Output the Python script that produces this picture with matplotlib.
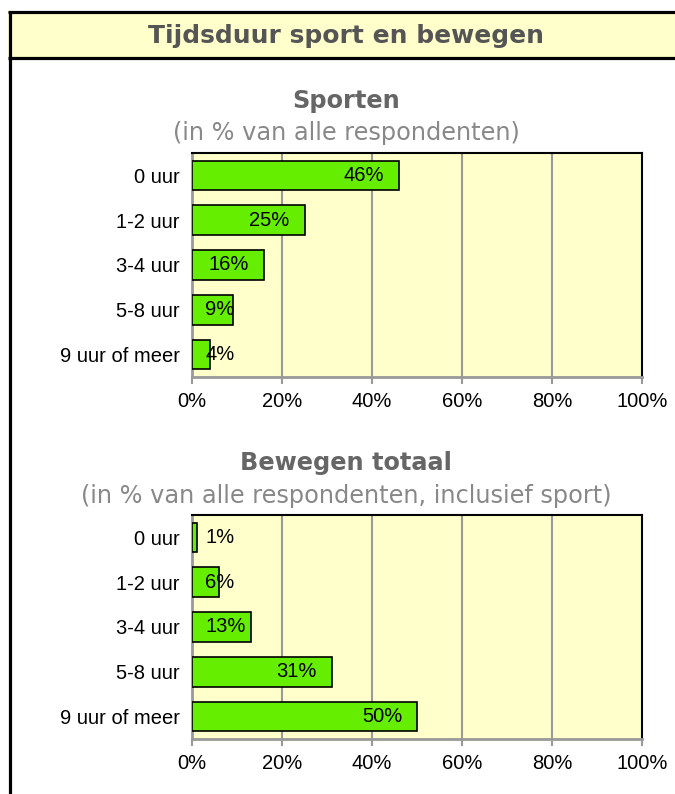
import matplotlib
matplotlib.use("Agg")
import matplotlib.pyplot as plt
from matplotlib.patches import Rectangle
from matplotlib.lines import Line2D

categories = ["0 uur", "1-2 uur", "3-4 uur", "5-8 uur", "9 uur of meer"]
sporten = [46, 25, 16, 9, 4]
bewegen = [1, 6, 13, 31, 50]
xticks = [0, 20, 40, 60, 80, 100]
xticklabels = ["0%", "20%", "40%", "60%", "80%", "100%"]

W, H = 675, 794
fig = plt.figure(figsize=(W / 100, H / 100), dpi=100)
fig.patch.set_facecolor("white")
renderer = fig.canvas.get_renderer()

def fx(x): return x / W
def fy(y): return 1 - y / H

# header band
fig.patches.append(Rectangle((fx(8), fy(59)), fx(680) - fx(8), fy(11) - fy(59),
                             transform=fig.transFigure, facecolor="#FFFFCC",
                             edgecolor="none", zorder=0))
for (x0, y0, x1, y1) in [(8, 12, 680, 12), (8, 58, 680, 58), (9.5, 11, 9.5, 800)]:
    fig.lines.append(Line2D([fx(x0), fx(x1)], [fy(y0), fy(y1)], transform=fig.transFigure,
                            color="black", lw=2.3, solid_capstyle="butt"))
fig.text(fx(346), fy(36), "Tijdsduur sport en bewegen", ha="center", va="center",
         fontsize=18, fontweight="bold", color="#555555", family="DejaVu Sans")

GREEN = "#66EE00"
BG = "#FFFFCC"
GRID = "#999999"
FS = 14.5

def panel(top, bottom, values, title, subtitle, ty, sy):
    ax = fig.add_axes([fx(192), fy(bottom), fx(642) - fx(192), fy(top) - fy(bottom)])
    ax.set_facecolor(BG)
    y = list(range(len(categories)))
    ax.barh(y, values, height=0.66, color=GREEN, edgecolor="black", linewidth=1.2, zorder=3)
    ax.set_xlim(0, 100)
    ax.set_ylim(len(categories) - 0.5, -0.5)
    ax.set_yticks(y)
    ax.set_yticklabels(categories, family="Liberation Sans", fontsize=FS)
    ax.set_xticks(xticks)
    ax.set_xticklabels(xticklabels, family="Liberation Sans", fontsize=FS)
    ax.tick_params(axis="y", length=0, pad=9)
    ax.tick_params(axis="x", length=5, color=GRID, width=1.5, pad=6)
    for t in xticks[1:-1]:
        ax.axvline(t, color=GRID, lw=1.5, zorder=1)
    for s in ["top", "right"]:
        ax.spines[s].set_color("black")
        ax.spines[s].set_linewidth(1.5)
    for s in ["left", "bottom"]:
        ax.spines[s].set_color(GRID)
        ax.spines[s].set_linewidth(2)
    ax_x0 = ax.get_window_extent(renderer).x0
    for i, v in enumerate(values):
        t = ax.text(v - 3.3, i, f"{v}%", ha="right", va="center", fontsize=FS,
                    family="Liberation Sans", color="black", zorder=4)
        bb = t.get_window_extent(renderer)
        if bb.x0 < ax_x0 + 13:
            t.set_x(2.9)
            t.set_ha("left")
    fig.text(fx(346), fy(ty), title, ha="center", va="center", fontsize=17.3,
             fontweight="bold", color="#666666", family="DejaVu Sans")
    fig.text(fx(346), fy(sy), subtitle, ha="center", va="center", fontsize=17.3,
             color="#888888", family="DejaVu Sans")
    return ax

panel(153, 377, sporten, "Sporten", "(in % van alle respondenten)", 101, 133)
panel(515, 739, bewegen, "Bewegen totaal", "(in % van alle respondenten, inclusief sport)", 463, 496)

fig.savefig("out.png", dpi=100, facecolor="white")
